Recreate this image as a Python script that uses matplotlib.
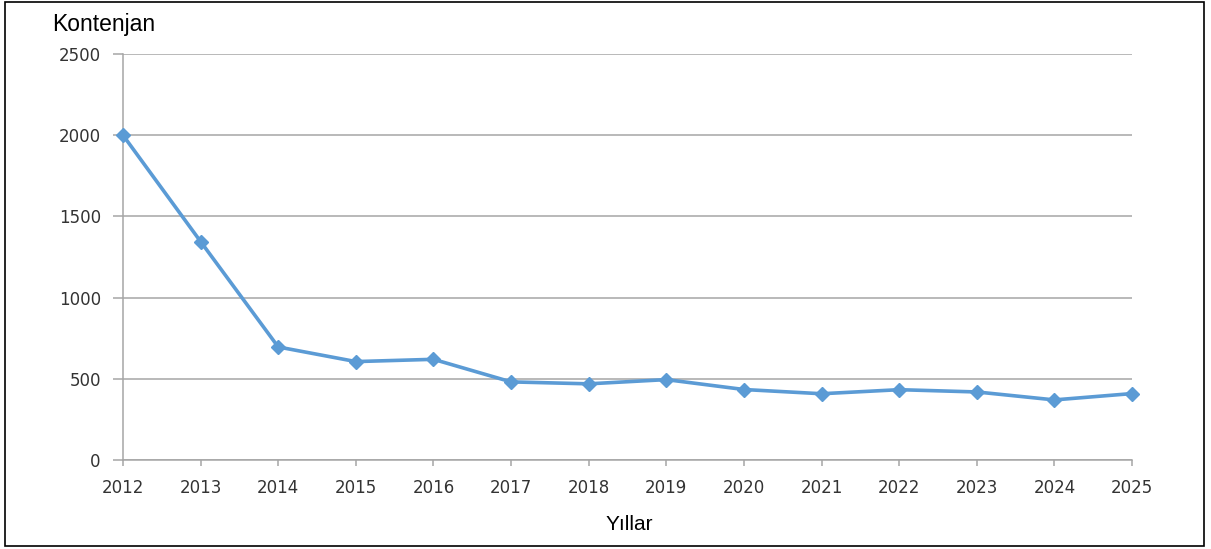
import matplotlib
matplotlib.use("Agg")
import matplotlib.pyplot as plt
from matplotlib.patches import Rectangle

years = [2012, 2013, 2014, 2015, 2016, 2017, 2018, 2019, 2020, 2021, 2022, 2023, 2024, 2025]
kontenjan = [2000, 1345, 696, 606, 620, 481, 469, 495, 434, 408, 433, 419, 370, 409]
yticks = [0, 500, 1000, 1500, 2000, 2500]

fig = plt.figure(figsize=(12.11, 5.49), dpi=100)
ax = fig.add_axes([123/1211, 1-460/549, (1132-123)/1211, (460-54)/549])

ax.plot(years, kontenjan, color="#5B9BD5", linewidth=2.6, marker="D", markersize=7.5,
        markerfacecolor="#5B9BD5", markeredgecolor="#5B9BD5", clip_on=False, zorder=3)

ax.set_xlim(2012, 2025)
ax.set_ylim(0, 2500)
ax.set_xticks(years)
ax.set_xticklabels([str(y) for y in years])
ax.set_yticks(yticks)
ax.set_yticklabels([str(v) for v in yticks])
ax.yaxis.grid(True, color="#a6a6a6", linewidth=1.1)
ax.set_axisbelow(True)
for s in ["top", "right"]:
    ax.spines[s].set_visible(False)
for s in ["left", "bottom"]:
    ax.spines[s].set_color("#a6a6a6")
    ax.spines[s].set_linewidth(1.1)
ax.tick_params(axis="y", length=7, width=1.1, color="#a6a6a6", pad=9, labelsize=12, labelcolor="#333333")
ax.tick_params(axis="x", length=4.5, width=1.1, color="#a6a6a6", pad=9, labelsize=12, labelcolor="#333333")
for lbl in ax.get_xticklabels() + ax.get_yticklabels():
    lbl.set_fontweight("medium")

fig.text(52/1211, 1-25/549, "Kontenjan", fontsize=16.5, family="Liberation Sans", va="center", ha="left", color="black")
fig.text(629/1211, 1-525/549, "Yıllar", fontsize=15, family="Liberation Sans", va="center", ha="center", color="black")

fig.patches.append(Rectangle((5/1211, 3/549), 1199/1211, 544/549, transform=fig.transFigure,
                             fill=False, edgecolor="black", linewidth=1.2))

fig.savefig("out.png", dpi=100, facecolor="white")
